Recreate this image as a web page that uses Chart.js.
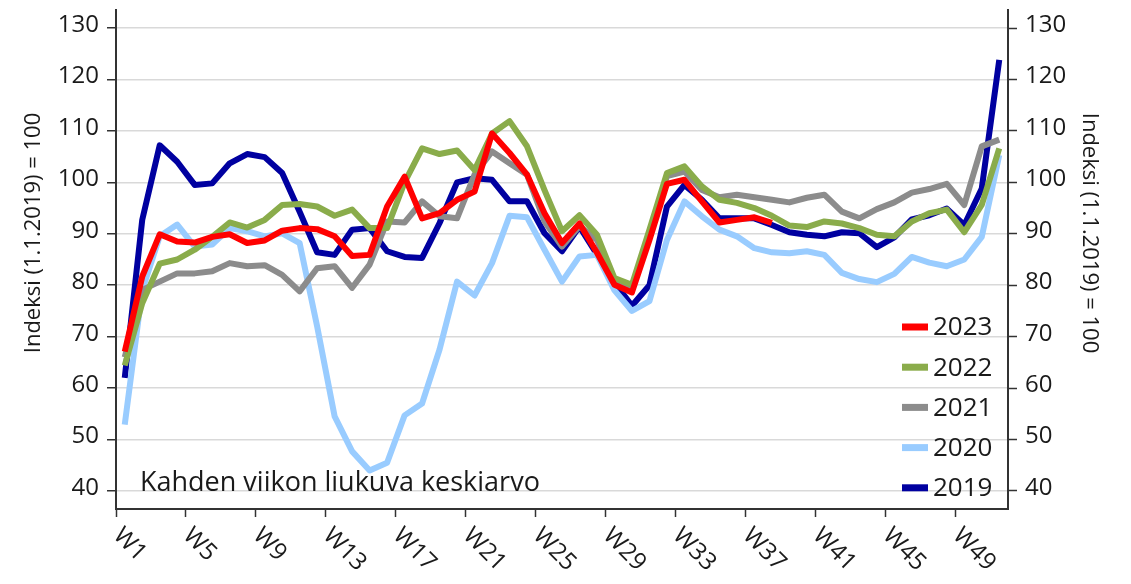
<!DOCTYPE html>
<html>
<head>
<meta charset="utf-8">
<script src="https://cdn.jsdelivr.net/npm/chart.js@4/dist/chart.umd.min.js"></script>
<style>
  body { margin: 0; background: #fff; }
</style>
</head>
<body>
<canvas id="kaavio" width="1131" height="584"></canvas>
<script>
const viikot = ['W1','W2','W3','W4','W5','W6','W7','W8','W9','W10',
  'W11','W12','W13','W14','W15','W16','W17','W18','W19','W20',
  'W21','W22','W23','W24','W25','W26','W27','W28','W29','W30',
  'W31','W32','W33','W34','W35','W36','W37','W38','W39','W40',
  'W41','W42','W43','W44','W45','W46','W47','W48','W49','W50','W51'];

const v2023 = [67.1, 81.7, 89.9, 88.5, 88.3, 89.4, 89.9, 88.2, 88.7, 90.6,
  91.1, 90.9, 89.5, 85.7, 85.9, 95.3, 101.1, 93.0, 94.0, 96.6,
  98.2, 109.5, 105.7, 101.5, 94.0, 88.2, 92.0, 86.3, 80.1, 78.6,
  88.8, 99.7, 100.5, 96.3, 92.2, 92.7, 93.2, 92.1];

const v2022 = [64.4, 76.5, 84.2, 85.0, 86.9, 89.4, 92.2, 91.2, 92.7, 95.6,
  95.8, 95.3, 93.5, 94.7, 91.1, 91.1, 100.0, 106.6, 105.5, 106.2,
  102.4, 109.5, 111.9, 107.0, 98.5, 90.5, 93.6, 89.8, 81.4, 80.1,
  90.8, 101.8, 103.1, 99.2, 96.6, 96.0, 95.0, 93.5, 91.6, 91.3,
  92.4, 92.0, 91.1, 89.8, 89.5, 92.4, 94.0, 94.7, 90.3, 95.6, 106.6];

const v2021 = [66.0, 79.1, 80.7, 82.3, 82.3, 82.7, 84.3, 83.7, 83.9, 82.0,
  78.8, 83.3, 83.7, 79.5, 84.0, 92.4, 92.2, 96.3, 93.4, 93.0,
  101.5, 106.0, 103.7, 101.5, 92.4, 87.5, 91.5, 88.8, 80.7, 79.5,
  89.5, 101.2, 102.1, 98.5, 97.1, 97.6, 97.1, 96.6, 96.1, 97.0,
  97.6, 94.3, 93.0, 94.8, 96.1, 98.0, 98.7, 99.7, 95.6, 107.0, 108.3];

const v2020 = [52.9, 79.0, 89.5, 91.8, 87.5, 87.9, 91.1, 90.5, 89.5, 90.1,
  88.2, 72.0, 54.5, 47.7, 44.0, 45.5, 54.7, 57.0, 67.5, 80.7,
  78.0, 84.3, 93.5, 93.2, 86.9, 80.7, 85.6, 85.9, 79.0, 75.0,
  76.9, 88.8, 96.3, 93.4, 90.8, 89.5, 87.2, 86.4, 86.2, 86.6,
  85.9, 82.4, 81.2, 80.6, 82.2, 85.5, 84.4, 83.7, 85.0, 89.4, 105.3];

const v2019 = [62.0, 92.7, 107.2, 104.0, 99.5, 99.8, 103.7, 105.5, 104.9, 101.8,
  94.3, 86.4, 85.9, 90.8, 91.1, 86.6, 85.5, 85.3, 92.1, 100.0,
  100.8, 100.5, 96.3, 96.3, 90.1, 86.6, 91.4, 86.0, 80.5, 76.0,
  80.0, 95.3, 99.5, 96.6, 93.0, 93.0, 93.0, 91.7, 90.3, 89.8,
  89.5, 90.3, 90.1, 87.4, 89.3, 92.8, 93.6, 94.9, 91.7, 98.8, 123.8];

const arvoAsteikko = [40, 50, 60, 70, 80, 90, 100, 110, 120, 130];
const akseliOtsikko = 'Indeksi (1.1.2019) = 100';
const huomio = 'Kahden viikon liukuva keskiarvo';

const tekstiVari = '#1a1a1a';
const fontti = '"Open Sans", "DejaVu Sans", sans-serif';

function sarja(nimi, arvot, vari) {
  return {
    label: nimi,
    data: arvot,
    borderColor: vari,
    backgroundColor: vari,
    borderWidth: 6,
    pointRadius: 0,
    tension: 0,
    fill: false,
    borderJoinStyle: 'round'
  };
}

const omatTekstit = {
  id: 'omatTekstit',
  afterDraw(chart) {
    const c = chart.ctx;
    const x = chart.scales.x;
    const alue = chart.chartArea;
    c.save();
    c.fillStyle = tekstiVari;

    // viikkojen nimet vinossa
    c.font = '24px ' + fontti;
    c.textAlign = 'left';
    c.textBaseline = 'middle';
    const puoli = (x.getPixelForValue(1) - x.getPixelForValue(0)) / 2;
    viikot.forEach((v, i) => {
      if (i % 4 !== 0) return;
      const px = x.getPixelForValue(i) - puoli;
      c.save();
      c.translate(px + 1, alue.bottom + 23);
      c.rotate(Math.PI / 4);
      c.fillText(v, 0, 0);
      c.restore();
    });

    // akselien otsikot
    c.font = '22px ' + fontti;
    c.textAlign = 'center';
    c.save();
    c.translate(34, 233);
    c.rotate(-Math.PI / 2);
    c.fillText(akseliOtsikko, 0, 0);
    c.restore();
    c.save();
    c.translate(1089, 233);
    c.rotate(Math.PI / 2);
    c.fillText(akseliOtsikko, 0, 0);
    c.restore();

    // huomautus
    c.font = '27px ' + fontti;
    c.textAlign = 'left';
    c.textBaseline = 'alphabetic';
    c.fillText(huomio, 140, 491);

    // selite
    c.font = '26px ' + fontti;
    c.textBaseline = 'middle';
    chart.data.datasets.forEach((d, i) => {
      const y = 327 + i * 40.2;
      c.fillStyle = d.borderColor;
      c.fillRect(902, y - 3.5, 26, 7);
      c.fillStyle = tekstiVari;
      c.fillText(d.label, 933, y + 1);
    });
    c.restore();
  }
};

const yTicks = {
  color: tekstiVari,
  font: { size: 24, family: fontti },
  padding: 8,
  labelOffset: -3
};

function pystyLeveys(leveys) {
  return (s) => {
    s.width = leveys;
    s.paddingTop = 0;
    s.paddingBottom = 0;
  };
}

const ctx = document.getElementById('kaavio').getContext('2d');

new Chart(ctx, {
  type: 'line',
  data: {
    labels: viikot,
    datasets: [
      sarja('2023', v2023, '#ff0000'),
      sarja('2022', v2022, '#8aac4b'),
      sarja('2021', v2021, '#8c8c8c'),
      sarja('2020', v2020, '#99ccff'),
      sarja('2019', v2019, '#0000a0')
    ]
  },
  options: {
    responsive: false,
    animation: false,
    devicePixelRatio: 1,
    events: [],
    layout: { padding: { top: 10, left: 0, right: 0, bottom: 0 } },
    plugins: {
      legend: { display: false },
      tooltip: { enabled: false }
    },
    scales: {
      x: {
        type: 'category',
        offset: true,
        ticks: { display: false },
        grid: {
          offset: true,
          drawOnChartArea: false,
          drawTicks: true,
          tickLength: 8,
          tickWidth: 1.5,
          tickColor: (c) => (c.index % 4 === 0 ? '#333' : 'rgba(0,0,0,0)')
        },
        border: { color: '#333', width: 2 },
        afterFit: (s) => {
          s.height = 75;
          s.paddingLeft = 0;
          s.paddingRight = 0;
        }
      },
      y: {
        position: 'left',
        min: 36.5,
        max: 133.5,
        afterBuildTicks: (s) => { s.ticks = arvoAsteikko.map(v => ({ value: v })); },
        ticks: yTicks,
        grid: {
          color: '#d9d9d9',
          lineWidth: 1.5,
          tickColor: '#333',
          tickLength: 9,
          tickWidth: 1.5
        },
        border: { color: '#333', width: 2 },
        afterFit: pystyLeveys(116)
      },
      y2: {
        position: 'right',
        min: 36.5,
        max: 133.5,
        afterBuildTicks: (s) => { s.ticks = arvoAsteikko.map(v => ({ value: v })); },
        ticks: yTicks,
        grid: {
          drawOnChartArea: false,
          tickColor: '#333',
          tickLength: 9,
          tickWidth: 1.5
        },
        border: { color: '#333', width: 2 },
        afterFit: pystyLeveys(123)
      }
    }
  },
  plugins: [omatTekstit]
});
</script>
</body>
</html>
